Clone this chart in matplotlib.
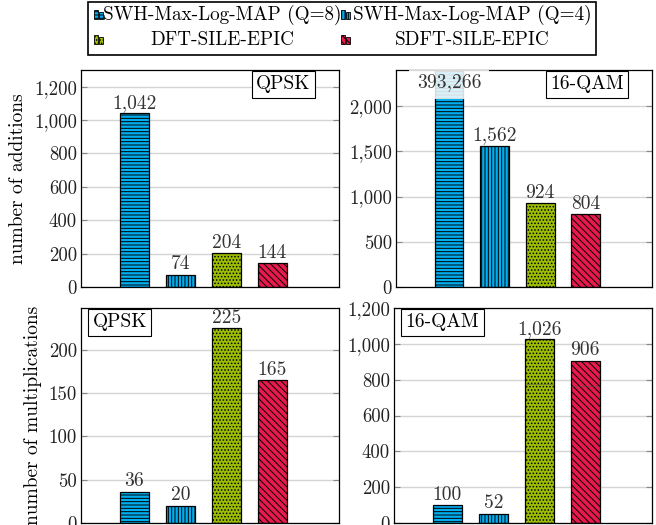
import matplotlib
matplotlib.use("Agg")
import matplotlib.pyplot as plt
from matplotlib.patches import Rectangle
from matplotlib.ticker import FuncFormatter, MultipleLocator

plt.rcParams['font.family'] = ['cmr10', 'DejaVu Serif']
plt.rcParams['axes.formatter.use_mathtext'] = True
plt.rcParams['hatch.linewidth'] = 0.7

schemes = ["SWH-Max-Log-MAP (Q=8)", "SWH-Max-Log-MAP (Q=4)",
           "DFT-SILE-EPIC", "SDFT-SILE-EPIC"]
add_qpsk = [1042, 74, 204, 144]
add_16qam = [393266, 1562, 924, 804]
mul_qpsk = [36, 20, 225, 165]
mul_16qam = [100, 52, 1026, 906]
# lower stacked part of the multiplication bars (0 = no split)
mul_qpsk_split = [0, 0, 0, 0]
mul_16qam_split = [0, 0, 776, 765]

colors = ['#00aeef', '#00aeef', '#9cbd00', '#e8194c']
hatches = ['-----', '|||||', '.....', '\\\\\\\\\\']

x = [1, 2, 3, 4]
W, H = 656, 525
FS = 14


def fmt(v, pos=None):
    return f"{int(round(v)):,}"


fig = plt.figure(figsize=(W / 100, H / 100), dpi=100)


def make_axes(l, t, r, b):
    return fig.add_axes([l / W, 1 - b / H, (r - l) / W, (b - t) / H])


panels = [
    (make_axes(81, 70, 339, 287), add_qpsk, None, 1300, 200, "QPSK", "right"),
    (make_axes(396, 70, 652, 287), add_16qam, None, 2400, 500, "16-QAM", "right"),
    (make_axes(81, 308, 339, 523), mul_qpsk, mul_qpsk_split, 248, 50, "QPSK", "left"),
    (make_axes(394, 308, 652, 523), mul_16qam, mul_16qam_split, 1200, 200, "16-QAM", "left"),
]

for ax, vals, split, ytop, step, mod, side in panels:
    ax.set_xlim(-0.16, 5.45)
    ax.set_ylim(0, ytop)
    ax.yaxis.set_major_locator(MultipleLocator(step))
    ax.yaxis.set_major_formatter(FuncFormatter(fmt))
    ax.set_xticks([])
    ax.grid(axis='y', color='#d4d4d4', lw=1.0)
    ax.set_axisbelow(True)
    ax.tick_params(axis='y', direction='in', length=4, color='#888888',
                   labelsize=13.5, pad=3, right=True, labelcolor='#222222')
    for s in ax.spines.values():
        s.set_linewidth(0.9)

    bars = ax.bar(x, vals, width=0.63, color=colors, edgecolor='black',
                  linewidth=0.9, zorder=2)
    for b, h in zip(bars, hatches):
        b.set_hatch(h)

    if split is not None:
        for xi, s in zip(x, split):
            if s:
                ax.hlines(s, xi - 0.315, xi + 0.315, color='#555555',
                          lw=0.6, alpha=0.6, zorder=3)

    for xi, v in zip(x, vals):
        if v > ytop:
            ax.text(xi, ytop - 0.055 * ytop, fmt(v), ha='center', va='center',
                    fontsize=FS, color='#333333', zorder=4, clip_on=True,
                    bbox=dict(boxstyle='square,pad=0.4', fc='white',
                              ec='none', alpha=0.85))
        else:
            ax.annotate(fmt(v), (xi, v), xytext=(0, 1), textcoords='offset points',
                        ha='center', va='bottom', fontsize=FS, color='#333333')

    if side == "right":
        ax.text(0.89, 0.975, mod, transform=ax.transAxes, ha='right', va='top',
                fontsize=FS, zorder=5,
                bbox=dict(boxstyle='square,pad=0.22', fc='white', ec='black', lw=0.8))
    else:
        ax.text(0.045, 0.975, mod, transform=ax.transAxes, ha='left', va='top',
                fontsize=FS, zorder=5,
                bbox=dict(boxstyle='square,pad=0.22', fc='white', ec='black', lw=0.8))

panels[0][0].set_ylabel("number of additions", fontsize=FS, labelpad=5)
panels[2][0].set_ylabel("number of multiplications", fontsize=FS, labelpad=5)

# legend drawn by hand: two rows, two columns, centred entry texts
fig.add_artist(Rectangle((88 / W, 1 - 55 / H), (596 - 88) / W, 53 / H,
                         transform=fig.transFigure, fc='white', ec='black', lw=1.2))
entries = [(0, 15, 94, 222), (1, 15, 341, 472), (2, 40, 94, 222), (3, 40, 341, 472)]
for i, yc, mx, tx in entries:
    for k, (dx, hh) in enumerate([(0, 9), (5, 7)]):
        fig.add_artist(Rectangle(((mx + dx) / W, 1 - (yc + 4) / H), 4 / W, hh / H,
                                 transform=fig.transFigure, fc=colors[i],
                                 ec='black', lw=0.6, hatch=hatches[i]))
    fig.text(tx / W, 1 - yc / H, schemes[i], ha='center', va='center', fontsize=13.8)

fig.savefig("out.png", dpi=100)
